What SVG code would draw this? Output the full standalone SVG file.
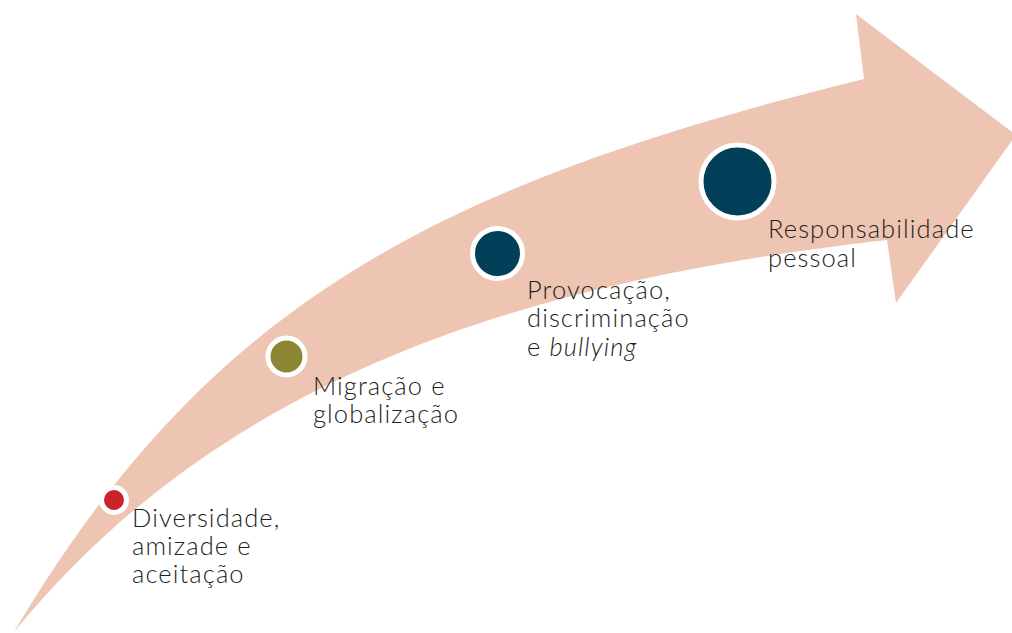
<svg xmlns="http://www.w3.org/2000/svg" width="1012" height="633" viewBox="0 0 1012 633">
  <style>
    .lbl { font-family: Lato, "Open Sans", "Liberation Sans", sans-serif; font-weight: 300; font-size: 25.5px; letter-spacing: 1.1px; fill: #231F20; }
    .ring { stroke: #FFFFFF; stroke-width: 5; }
  </style>
  <rect x="0" y="0" width="1012" height="633" fill="#FFFFFF"/>
  <g id="arrow">
    <path d="M14,632 C207,307 429,186 864,79 L856,14 L1016,135 L896,303 L887,240 C533,280 226,372 14,632 Z" fill="#EEC4B2"/>
  </g>
  <g id="connectors"></g>
  <g id="node-diversidade">
    <circle class="ring" cx="114" cy="500" r="12.5" fill="#CC2229"/>
    <text class="lbl" x="132" y="527">Diversidade,</text>
    <text class="lbl" x="132" y="555">amizade e</text>
    <text class="lbl" x="132" y="583">aceitação</text>
  </g>
  <g id="node-migracao">
    <circle class="ring" cx="286.5" cy="356.5" r="18.5" fill="#8B8534"/>
    <text class="lbl" x="313" y="395">Migração e</text>
    <text class="lbl" x="313" y="423">globalização</text>
  </g>
  <g id="node-provocacao">
    <circle class="ring" cx="497.5" cy="253.5" r="25" fill="#023F58"/>
    <text class="lbl" x="527" y="299">Provocação,</text>
    <text class="lbl" x="527" y="327">discriminação</text>
    <text class="lbl" x="527" y="356">e <tspan font-style="italic">bullying</tspan></text>
  </g>
  <g id="node-responsabilidade">
    <circle class="ring" cx="737.5" cy="181.5" r="36.5" fill="#023F58"/>
    <text class="lbl" x="768" y="238">Responsabilidade</text>
    <text class="lbl" x="768" y="267">pessoal</text>
  </g>
</svg>
